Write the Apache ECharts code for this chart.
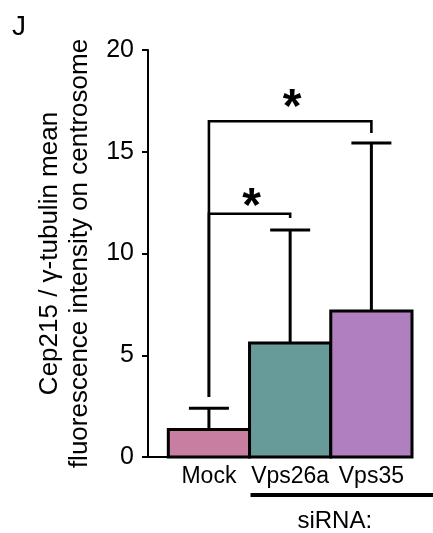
<!DOCTYPE html>
<html>
<head>
<meta charset="utf-8">
<script src="https://cdn.jsdelivr.net/npm/echarts@6/dist/echarts.min.js"></script>
<style>
html,body{margin:0;padding:0;background:#fff;}
#chart{width:433px;height:533px;}
</style>
</head>
<body>
<div id="chart"></div>
<script>
const categories = ['Mock', 'Vps26a', 'Vps35'];
const means = [1.35, 5.6, 7.17];
const errorTops = [2.4, 11.15, 15.43];
const barColors = ['#c77ea0', '#669b99', '#b07fc0'];
const yTicks = [0, 5, 10, 15, 20];
const bracketFrom = [0, 0];
const bracketTo = [1, 2];
const bracketTop = [11.95, 16.5];
const bracketLeftBottom = [2.95, 2.95];
const bracketRightBottom = [11.74, 15.92];
const bracketStarY = [12.95, 17.8];
const bracketLabels = ['*', '*'];
const groupLabel = 'siRNA:';
const groupFrom = 1, groupTo = 2;

const FONT = '"Liberation Sans", Arial, Helvetica, sans-serif';

const barData = categories.map((c, i) => [i, means[i], errorTops[i]]);
const bracketData = bracketFrom.map((f, i) => [f, bracketTo[i], bracketTop[i], bracketLeftBottom[i], bracketRightBottom[i], bracketStarY[i], i]);

const chart = echarts.init(document.getElementById('chart'), null, {renderer: 'canvas'});
chart.setOption({
  animation: false,
  backgroundColor: '#fff',
  grid: {left: 148, right: 21, top: 50, bottom: 76, containLabel: false},
  graphic: [{
    type: 'text', left: 12, top: 13,
    style: {text: 'J', fontSize: 28, fontFamily: FONT, fill: '#000'}
  }],
  xAxis: {
    type: 'value', min: -0.75, max: 2.5,
    axisLine: {show: true, onZero: false, lineStyle: {color: '#000', width: 2}},
    axisTick: {show: false},
    splitLine: {show: false},
    axisLabel: {
      customValues: [0, 1, 2],
      formatter: v => categories[Math.round(v)],
      fontSize: 23, fontFamily: FONT, color: '#000', margin: 8
    }
  },
  yAxis: {
    type: 'value', min: yTicks[0], max: yTicks[yTicks.length - 1], interval: 5,
    axisLine: {show: true, onZero: false, lineStyle: {color: '#000', width: 2}},
    axisTick: {show: true, length: 6, lineStyle: {color: '#000', width: 2}},
    splitLine: {show: false},
    axisLabel: {fontSize: 25, fontFamily: FONT, color: '#000', margin: 14},
    name: 'Cep215 / γ-tubulin mean\nfluorescence intensity on centrosome',
    nameLocation: 'middle', nameRotate: 90, nameGap: 52,
    nameTextStyle: {fontSize: 26, fontFamily: FONT, color: '#000', lineHeight: 30}
  },
  series: [
    {
      type: 'custom', clip: false,
      data: barData,
      renderItem: function (params, api) {
        const i = api.value(0), m = api.value(1), e = api.value(2);
        const p0 = api.coord([i - 0.5, 0]);
        const p1 = api.coord([i + 0.5, m]);
        const pm = api.coord([i, m]);
        const pe = api.coord([i, e]);
        return {
          type: 'group',
          children: [
            {type: 'line', shape: {x1: pm[0], y1: pm[1], x2: pe[0], y2: pe[1]}, style: {stroke: '#000', lineWidth: 3}},
            {type: 'line', shape: {x1: pe[0] - 20, y1: pe[1], x2: pe[0] + 20, y2: pe[1]}, style: {stroke: '#000', lineWidth: 3}},
            {type: 'rect', shape: {x: p0[0], y: p1[1], width: p1[0] - p0[0], height: p0[1] - p1[1]},
             style: {fill: barColors[i], stroke: '#000', lineWidth: 3}}
          ]
        };
      }
    },
    {
      type: 'custom', clip: false,
      data: bracketData,
      renderItem: function (params, api) {
        const f = api.value(0), t = api.value(1), top = api.value(2);
        const lb = api.value(3), rb = api.value(4), sy = api.value(5), k = api.value(6);
        const a = api.coord([f, top]);
        const b = api.coord([t, top]);
        const al = api.coord([f, lb]);
        const br = api.coord([t, rb]);
        const s = api.coord([(f + t) / 2, sy]);
        const fs = 48;
        return {
          type: 'group',
          children: [
            {type: 'polyline', shape: {points: [[al[0], al[1]], [a[0], a[1]], [b[0], b[1]], [br[0], br[1]]]},
             style: {stroke: '#000', lineWidth: 2.6, fill: null}},
            {type: 'text', style: {text: bracketLabels[k], x: s[0] + 2, y: s[1] + fs * 0.3, align: 'center', verticalAlign: 'middle',
              fontSize: fs, fontWeight: 'bold', fontFamily: FONT, fill: '#000'}}
          ]
        };
      }
    },
    {
      type: 'custom', clip: false,
      data: [[groupFrom, groupTo]],
      renderItem: function (params, api) {
        const f = api.value(0), t = api.value(1);
        const a = api.coord([f - 0.5, 0]);
        const b = api.coord([t + 0.5, 0]);
        const c = api.coord([(f + t) / 2, 0]);
        return {
          type: 'group',
          children: [
            {type: 'line', shape: {x1: a[0] + 1, y1: a[1] + 38, x2: b[0] + 21, y2: a[1] + 38}, style: {stroke: '#000', lineWidth: 4}},
            {type: 'text', style: {text: groupLabel, x: c[0] + 4, y: a[1] + 64, align: 'center', verticalAlign: 'middle',
              fontSize: 24, fontFamily: FONT, fill: '#000'}}
          ]
        };
      }
    }
  ]
});
</script>
</body>
</html>
